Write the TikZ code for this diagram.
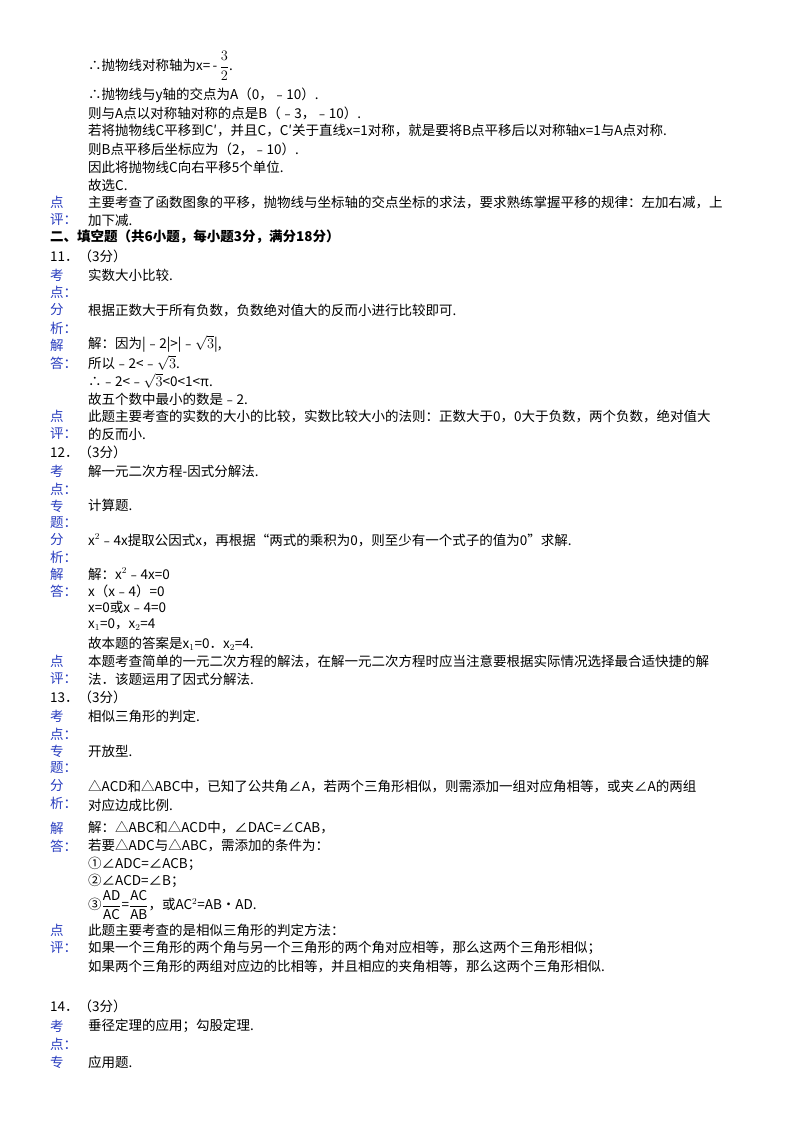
\documentclass[tikz,border=0pt]{standalone}
\usepackage{fontspec}
\setmainfont{Noto Sans CJK SC}
\definecolor{lab}{RGB}{40,60,190}
\begin{document}
\begin{tikzpicture}[x=1pt,y=-1pt,
  t/.style={anchor=west,inner sep=0,font=\fontsize{13.5}{14}\selectfont},
  lb/.style={t,text=lab}]
\useasboundingbox (0,0) rectangle (800,1132);
\def\T#1#2#3{\node[t] at (#1,#2) {#3};}
\def\B#1#2{\node[lb] at (50,#1) {#2};}
\T{88}{66}{∴抛物线对称轴为x=\,-\,$\displaystyle\frac{3}{2}$.}
\T{88}{95}{∴抛物线与y轴的交点为A（0，﹣10）.}
\T{88}{113}{则与A点以对称轴对称的点是B（﹣3，﹣10）.}
\T{88}{131}{若将抛物线C平移到C′，并且C，C′关于直线x=1对称，就是要将B点平移后以对称轴x=1与A点对称.}
\T{88}{149}{则B点平移后坐标应为（2，﹣10）.}
\T{88}{167}{因此将抛物线C向右平移5个单位.}
\T{88}{185}{故选C.}
\B{202}{点}\B{220}{评：}
\T{88}{202}{主要考查了函数图象的平移，抛物线与坐标轴的交点坐标的求法，要求熟练掌握平移的规律：左加右减，上}
\T{88}{220}{加下减.}
\T{50}{237}{\bfseries 二、填空题（共6小题，每小题3分，满分18分）}
\T{50}{256}{11．（3分）}
\B{275}{考}\B{292}{点：}\T{88}{275}{实数大小比较.}
\B{310}{分}\B{328}{析：}\T{88}{310}{根据正数大于所有负数，负数绝对值大的反而小进行比较即可.}
\B{345}{解}\B{363}{答：}
\T{88}{344}{解：因为|﹣2|>|﹣$\sqrt{3}$|,}
\T{88}{363}{所以﹣2<﹣$\sqrt{3}$.}
\T{88}{381}{∴﹣2<﹣$\sqrt{3}$<0<1<π.}
\T{88}{399}{故五个数中最小的数是﹣2.}
\B{416}{点}\B{434}{评：}
\T{88}{416}{此题主要考查的实数的大小的比较，实数比较大小的法则：正数大于0，0大于负数，两个负数，绝对值大}
\T{88}{434}{的反而小.}
\T{50}{452}{12．（3分）}
\B{471}{考}\B{489}{点：}\T{88}{471}{解一元二次方程-因式分解法.}
\B{506}{专}\B{523}{题：}\T{88}{505}{计算题.}
\B{540}{分}\B{557}{析：}\T{88}{540}{x$^2$﹣4x提取公因式x，再根据“两式的乘积为0，则至少有一个式子的值为0”求解.}
\B{574}{解}\B{591}{答：}
\T{88}{574}{解：x$^2$﹣4x=0}
\T{88}{591}{x（x﹣4）=0}
\T{88}{607}{x=0或x﹣4=0}
\T{88}{625}{x$_1$=0，x$_2$=4}
\T{88}{644}{故本题的答案是x$_1$=0．x$_2$=4.}
\B{661}{点}\B{679}{评：}
\T{88}{661}{本题考查简单的一元二次方程的解法，在解一元二次方程时应当注意要根据实际情况选择最合适快捷的解}
\T{88}{679}{法．该题运用了因式分解法.}
\T{50}{697}{13．（3分）}
\B{716}{考}\B{734}{点：}\T{88}{716}{相似三角形的判定.}
\B{751}{专}\B{768}{题：}\T{88}{751}{开放型.}
\B{786}{分}\B{803}{析：}
\T{88}{786}{△ACD和△ABC中，已知了公共角∠A，若两个三角形相似，则需添加一组对应角相等，或夹∠A的两组}
\T{88}{805}{对应边成比例.}
\B{828}{解}\B{846}{答：}
\T{88}{828}{解：△ABC和△ACD中，∠DAC=∠CAB，}
\T{88}{846}{若要△ADC与△ABC，需添加的条件为：}
\T{88}{864}{①∠ADC=∠ACB；}
\T{88}{881}{②∠ACD=∠B；}
\T{88}{905}{③$\displaystyle\frac{\mathrm{AD}}{\mathrm{AC}}$=$\displaystyle\frac{\mathrm{AC}}{\mathrm{AB}}$，或AC$^2$=AB•AD.}
\B{930}{点}\B{948}{评：}
\T{88}{930}{此题主要考查的是相似三角形的判定方法：}
\T{88}{948}{如果一个三角形的两个角与另一个三角形的两个角对应相等，那么这两个三角形相似；}
\T{88}{966}{如果两个三角形的两组对应边的比相等，并且相应的夹角相等，那么这两个三角形相似.}
\T{50}{1006}{14．（3分）}
\B{1026}{考}\B{1044}{点：}\T{88}{1026}{垂径定理的应用；勾股定理.}
\B{1062}{专}\T{88}{1062}{应用题.}
\end{tikzpicture}
\end{document}
